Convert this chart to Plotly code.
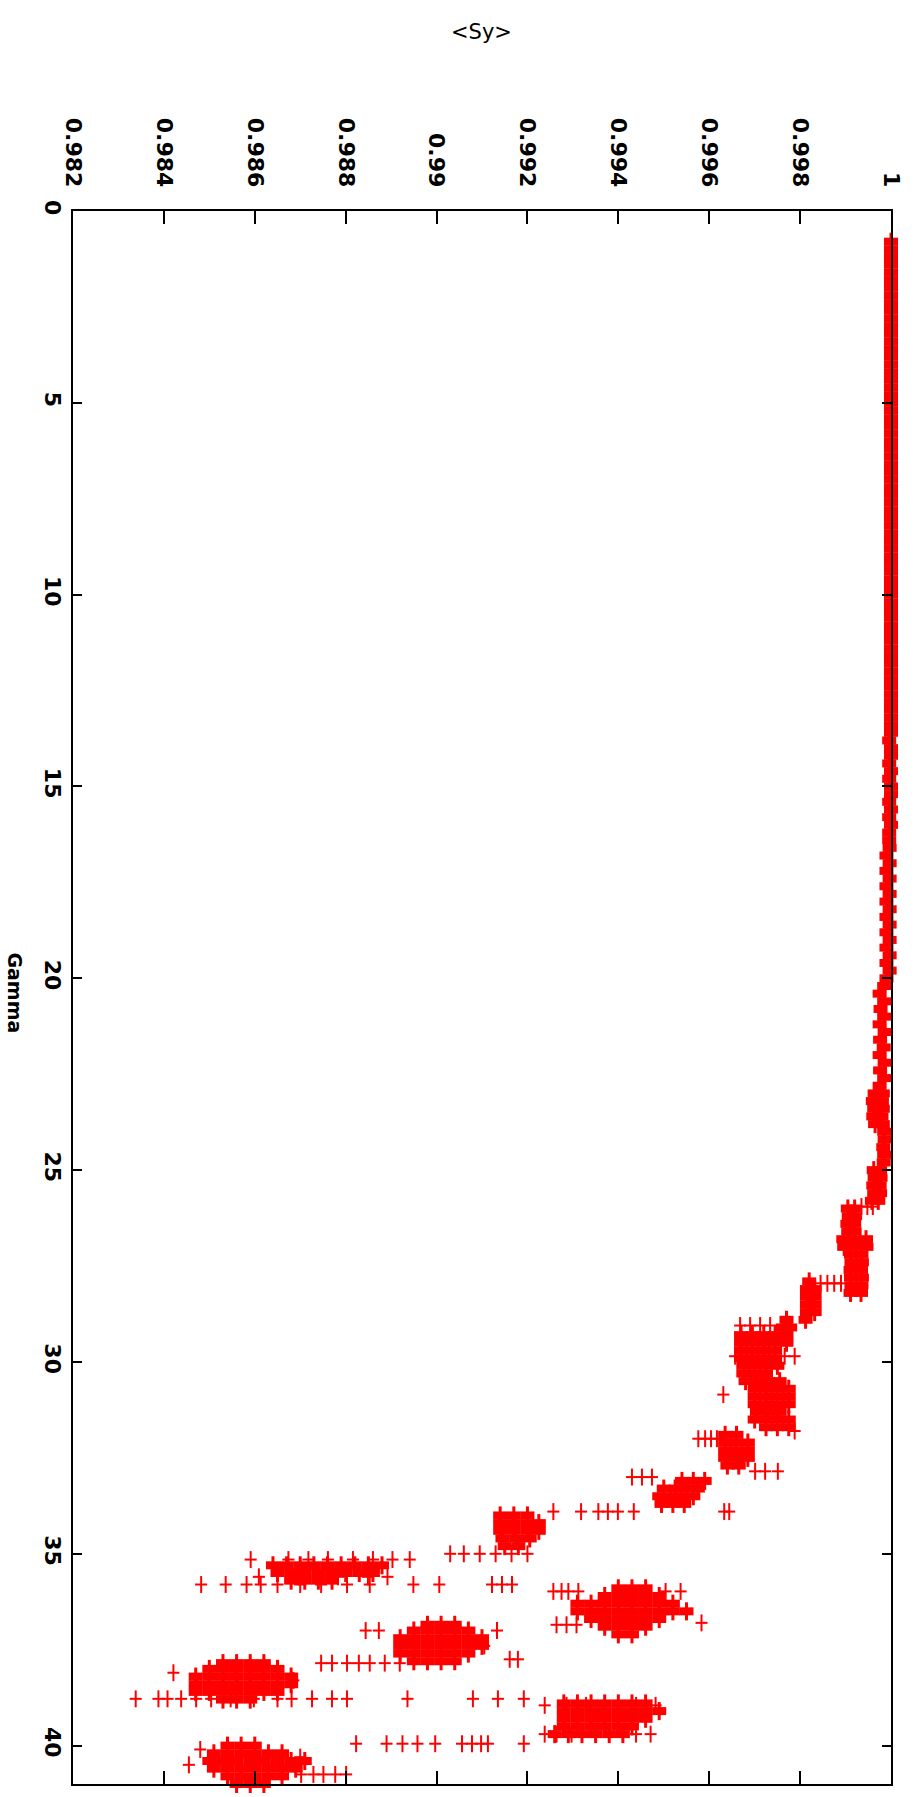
import plotly.graph_objects as go

# ---------------------------------------------------------------
# <Sy> versus Gamma
# ---------------------------------------------------------------

# Gamma 0.8 - 20: <Sy> sits on 1
plateau_gamma = [
    0.8, 1.0, 1.2, 1.4, 1.6, 1.8, 2.0, 2.2, 2.4, 2.6, 2.8, 3.0, 3.2, 3.4, 3.6, 3.8,
    4.0, 4.2, 4.4, 4.6, 4.8, 5.0, 5.2, 5.4, 5.6, 5.8, 6.0, 6.2, 6.4, 6.6, 6.8, 7.0,
    7.2, 7.4, 7.6, 7.8, 8.0, 8.2, 8.4, 8.6, 8.8, 9.0, 9.2, 9.4, 9.6, 9.8, 10.0, 10.2,
    10.4, 10.6, 10.8, 11.0, 11.2, 11.4, 11.6, 11.8, 12.0, 12.2, 12.4, 12.6, 12.8, 13.0,
    13.2, 13.4,
    13.6, 13.8, 14.0, 14.2, 14.4, 14.6, 14.8, 15.0, 15.2, 15.4, 15.6, 15.8, 16.0, 16.2,
    16.4,
    16.6, 16.8, 17.0, 17.2, 17.4, 17.6, 17.8, 18.0, 18.2, 18.4, 18.6, 18.8, 19.0, 19.2,
    19.4, 19.6, 19.8, 20.0,
]
plateau_sy = [
    1.0, 1.0, 1.0, 1.0, 1.0, 1.0, 1.0, 1.0, 1.0, 1.0, 1.0, 1.0, 1.0, 1.0, 1.0, 1.0,
    1.0, 1.0, 1.0, 1.0, 1.0, 1.0, 1.0, 1.0, 1.0, 1.0, 1.0, 1.0, 1.0, 1.0, 1.0, 1.0,
    1.0, 1.0, 1.0, 1.0, 1.0, 1.0, 1.0, 1.0, 1.0, 1.0, 1.0, 1.0, 1.0, 1.0, 1.0, 1.0,
    1.0, 1.0, 1.0, 1.0, 1.0, 1.0, 1.0, 1.0, 1.0, 1.0, 1.0, 1.0, 1.0, 1.0,
    1.0, 1.0,
    1.0, 0.99996, 1.0, 1.0, 0.99996, 1.0, 0.99996, 1.0, 1.0, 0.99996, 1.0, 0.99996,
    1.0, 0.99996, 0.99996,
    0.99997, 0.99990, 0.99997, 0.99990, 0.99997, 0.99990, 0.99997, 0.99990, 0.99997,
    0.99990, 0.99997, 0.99990, 0.99997, 0.99990, 0.99997, 0.99990, 0.99997, 0.99990,
]

# Dense bands: one Gamma per row, with the <Sy> values found on that row
knee_gamma = [20.2, 20.4, 20.6, 20.8, 21.0, 21.2, 21.4, 21.6, 21.8, 22.0, 22.2, 22.4,
              22.6, 22.8, 23.0, 23.2, 23.4, 23.6, 23.8, 24.0, 24.2, 24.4, 24.6, 24.8,
              25.0, 25.2, 25.4, 25.6, 25.8, 26.0, 26.2, 26.4, 26.6, 26.8, 27.0, 27.2,
              27.4, 27.6, 27.8, 28.0, 28.2]
knee_sy = [
    [0.99985], [0.99975], [0.99985], [0.99977], [0.99985], [0.99975], [0.99986],
    [0.99976], [0.99984], [0.99975], [0.99986], [0.99976], [0.99985], [0.99975],
    [0.99964, 0.99982], [0.99960, 0.99980], [0.99963, 0.99982], [0.99961, 0.99979],
    [0.99965, 0.99982],
    [0.99985], [0.99986], [0.99983], [0.99985], [0.99984],
    [0.99962, 0.99976], [0.99964, 0.99977], [0.99961, 0.99975], [0.99963, 0.99976],
    [0.99958, 0.99972],
    [0.99905, 0.99920], [0.99907, 0.99921], [0.99904, 0.99919], [0.99906, 0.99920],
    [0.99895, 0.99920, 0.99945], [0.99897, 0.99922, 0.99946],
    [0.99912, 0.99935], [0.99913, 0.99936], [0.99911, 0.99934], [0.99912, 0.99936],
    [0.99913, 0.99935], [0.99911, 0.99934],
]

step_gamma = [27.9, 28.1, 28.3, 28.5, 28.7, 28.9, 29.1, 29.3, 29.5, 29.7, 29.9, 30.1,
              30.3, 30.5, 30.7, 30.9, 31.1, 31.3, 31.5, 31.7, 31.9, 32.1, 32.3, 32.5,
              32.7, 33.1, 33.3, 33.5, 33.7, 34.0, 34.2, 34.4, 34.6, 34.8]
step_sy = [
    [0.99820],
    [0.99815, 0.99832], [0.99815, 0.99832], [0.99815, 0.99832], [0.99815, 0.99832],
    [0.99812, 0.99770],
    [0.99762, 0.99778],
    [0.99670, 0.99695, 0.99720, 0.99745, 0.99770],
    [0.99670, 0.99695, 0.99720, 0.99745, 0.99770],
    [0.99670, 0.99695, 0.99720, 0.99745],
    [0.99670, 0.99695, 0.99720, 0.99745],
    [0.99675, 0.99700, 0.99725, 0.99750],
    [0.99675, 0.99700, 0.99725],
    [0.99680, 0.99705, 0.99730, 0.99755],
    [0.99700, 0.99725, 0.99750, 0.99775],
    [0.99700, 0.99725, 0.99750, 0.99775],
    [0.99700, 0.99725, 0.99750, 0.99775],
    [0.99705, 0.99730, 0.99755],
    [0.99700, 0.99725, 0.99750, 0.99775],
    [0.99725, 0.99750, 0.99775],
    [0.99635, 0.99660],
    [0.99635, 0.99660, 0.99685],
    [0.99635, 0.99660, 0.99685],
    [0.99635, 0.99660, 0.99685],
    [0.99640, 0.99665],
    [0.99540, 0.99565, 0.99590],
    [0.99500, 0.99525, 0.99550, 0.99575],
    [0.99490, 0.99515, 0.99540, 0.99565],
    [0.99495, 0.99520, 0.99545],
    [0.99140, 0.99170, 0.99200],
    [0.99140, 0.99170, 0.99200, 0.99225],
    [0.99140, 0.99170, 0.99200, 0.99225],
    [0.99145, 0.99175, 0.99205],
    [0.99150, 0.99180],
]

branch_gamma = [35.3, 35.5, 35.7, 35.9, 36.1, 36.3, 36.5, 36.7, 36.85, 36.9, 37.0,
                37.1, 37.2, 37.4, 37.6, 37.8, 37.85, 38.0, 38.2, 38.4, 38.6, 38.8,
                38.9, 39.1, 39.3, 39.5, 39.7, 40.0, 40.2, 40.4, 40.6, 40.8, 41.0]
branch_sy = [
    [0.98640, 0.98670, 0.98700, 0.98730, 0.98760, 0.98790, 0.98820, 0.98850, 0.98880],
    [0.98650, 0.98680, 0.98710, 0.98740, 0.98770, 0.98800, 0.98830, 0.98860],
    [0.98680, 0.98710, 0.98740, 0.98770],
    [0.99400, 0.99430, 0.99460],
    [0.99370, 0.99400, 0.99430, 0.99460, 0.99490],
    [0.99310, 0.99340, 0.99370, 0.99400, 0.99430, 0.99460, 0.99490, 0.99520],
    [0.99310, 0.99340, 0.99370, 0.99400, 0.99430, 0.99460, 0.99490, 0.99520, 0.99550],
    [0.99340, 0.99370, 0.99400, 0.99430, 0.99460, 0.99490],
    [0.98980, 0.99010, 0.99040],
    [0.99370, 0.99400, 0.99430, 0.99460],
    [0.98950, 0.98980, 0.99010, 0.99040, 0.99070],
    [0.99400, 0.99430],
    [0.98920, 0.98950, 0.98980, 0.99010, 0.99040, 0.99070, 0.99100],
    [0.98920, 0.98950, 0.98980, 0.99010, 0.99040, 0.99070, 0.99100],
    [0.98920, 0.98950, 0.98980, 0.99010, 0.99040, 0.99070],
    [0.98950, 0.98980, 0.99010, 0.99040],
    [0.98530, 0.98560, 0.98590, 0.98620],
    [0.98500, 0.98530, 0.98560, 0.98590, 0.98620, 0.98650],
    [0.98470, 0.98500, 0.98530, 0.98560, 0.98590, 0.98620, 0.98650, 0.98680],
    [0.98470, 0.98500, 0.98530, 0.98560, 0.98590, 0.98620, 0.98650, 0.98680],
    [0.98470, 0.98500, 0.98530, 0.98560, 0.98590, 0.98620, 0.98650],
    [0.98530, 0.98560, 0.98590],
    [0.99280, 0.99310, 0.99340, 0.99370, 0.99400, 0.99430, 0.99460],
    [0.99280, 0.99310, 0.99340, 0.99370, 0.99400, 0.99430, 0.99460, 0.99490],
    [0.99280, 0.99310, 0.99340, 0.99370, 0.99400, 0.99430, 0.99460],
    [0.99280, 0.99310, 0.99340, 0.99370, 0.99400, 0.99430],
    [0.99260, 0.99290, 0.99320, 0.99350, 0.99380, 0.99410],
    [0.98540, 0.98570, 0.98600],
    [0.98510, 0.98540, 0.98570, 0.98600, 0.98630, 0.98660],
    [0.98500, 0.98530, 0.98560, 0.98590, 0.98620, 0.98650, 0.98680, 0.98710],
    [0.98510, 0.98540, 0.98570, 0.98600, 0.98630, 0.98660, 0.98690],
    [0.98540, 0.98570, 0.98600, 0.98630, 0.98660],
    [0.98560, 0.98590, 0.98620],
]

# Isolated points
stray_gamma = [25.95, 27.95, 29.05, 29.85, 30.85, 31.8, 32.0, 32.85, 33.0, 33.9, 35.0,
               35.15, 35.6, 35.8, 35.98, 36.8, 36.85, 37.0, 37.4, 37.75, 37.85, 38.1,
               38.3, 38.78, 38.95, 39.7, 39.95, 40.1, 40.3, 40.5, 40.75, 40.95]
stray_sy = [
    [0.99935, 0.99948, 0.99960],
    [0.99845, 0.99860, 0.99875, 0.99890],
    [0.99668, 0.99690, 0.99712, 0.99734],
    [0.99657, 0.99683, 0.99766, 0.99788],
    [0.99631],
    [0.99788],
    [0.99576, 0.99591, 0.99604, 0.99617],
    [0.99701, 0.99723, 0.99751],
    [0.99430, 0.99452, 0.99474],
    [0.99257, 0.99318, 0.99356, 0.99377, 0.99399, 0.99434, 0.99633, 0.99644],
    [0.99030, 0.99060, 0.99095, 0.99130, 0.99165, 0.99200],
    [0.98591, 0.98674, 0.98718, 0.98761, 0.98816, 0.98860, 0.98903, 0.98941],
    [0.98609, 0.98696, 0.98783, 0.98849, 0.98892],
    [0.98482, 0.98536, 0.98582, 0.98613, 0.98650, 0.98700, 0.98746, 0.98803, 0.98853,
     0.98949, 0.99006, 0.99122, 0.99144, 0.99166],
    [0.99257, 0.99275, 0.99290, 0.99312, 0.99504, 0.99537],
    [0.99583],
    [0.99264, 0.99286, 0.99308],
    [0.98844, 0.98873, 0.99133],
    [0.99105],
    [0.99161, 0.99179],
    [0.98746, 0.98770, 0.98803, 0.98829, 0.98853, 0.98886, 0.98919],
    [0.98421],
    [0.98685],
    [0.98338, 0.98388, 0.98408, 0.98438, 0.98471, 0.98504, 0.98547, 0.98598, 0.98650,
     0.98681, 0.98726, 0.98770, 0.98803, 0.98936, 0.99080, 0.99135, 0.99192],
    [0.99238, 0.99286, 0.99329, 0.99439, 0.99482],
    [0.99238, 0.99264, 0.99297, 0.99439, 0.99471],
    [0.98823, 0.98890, 0.98925, 0.98958, 0.98997, 0.99056, 0.99078, 0.99098, 0.99113,
     0.99192],
    [0.98480],
    [0.98700],
    [0.98455],
    [0.98702, 0.98729, 0.98751, 0.98777, 0.98801],
    [0.98560, 0.98620],
]

sy_ticks = [0.982, 0.984, 0.986, 0.988, 0.990, 0.992, 0.994, 0.996, 0.998, 1.0]
sy_ticktext = ["0.982", "0.984", "0.986", "0.988", "0.99", "0.992", "0.994", "0.996",
               "0.998", "1"]
gamma_ticks = [0, 5, 10, 15, 20, 25, 30, 35, 40]
gamma_ticktext = ["0", "5", "10", "15", "20", "25", "30", "35", "40"]


def flatten(rows_gamma, rows_sy):
    xs, ys = [], []
    for g, vals in zip(rows_gamma, rows_sy):
        for v in vals:
            xs.append(v)
            ys.append(g)
    return xs, ys


RED = "#ff0000"
FONT = "DejaVu Sans"

solid_x = list(plateau_sy)
solid_y = list(plateau_gamma)
for rg, rs in ((knee_gamma, knee_sy), (step_gamma, step_sy), (branch_gamma, branch_sy)):
    xs, ys = flatten(rg, rs)
    solid_x += xs
    solid_y += ys

stray_x, stray_y = flatten(stray_gamma, stray_sy)


def plus_traces(x, y, ew_size, ew_width, ns_size, ns_width):
    # a "+" point mark built from a horizontal and a vertical stroke
    out = []
    for sym, size, width in (("line-ew", ew_size, ew_width), ("line-ns", ns_size, ns_width)):
        out.append(go.Scatter(
            x=x, y=y, mode="markers", showlegend=False, hoverinfo="skip",
            cliponaxis=False,
            marker=dict(symbol=sym, size=size, color=RED,
                        line=dict(color=RED, width=width)),
        ))
    return out


fig = go.Figure()
for tr in plus_traces(solid_x, solid_y, 10, 8, 12.9, 3):
    fig.add_trace(tr)
for tr in plus_traces(stray_x, stray_y, 8.6, 2, 12.1, 2):
    fig.add_trace(tr)

axis_font = dict(family=FONT, size=22, color="black", weight="bold")

fig.update_layout(
    width=915, height=1797,
    margin=dict(l=73, r=18, t=211, b=11),
    paper_bgcolor="white", plot_bgcolor="white",
    xaxis=dict(
        side="top", range=[0.982, 1.0],
        tickmode="array", tickvals=sy_ticks, ticktext=sy_ticktext,
        tickangle=90, tickfont=axis_font, ticklabelstandoff=14,
        ticks="inside", ticklen=13, tickwidth=2, tickcolor="black",
        showline=True, linecolor="black", linewidth=2, mirror="ticks",
        showgrid=False, zeroline=False,
    ),
    yaxis=dict(
        range=[41, 0],
        tickmode="array", tickvals=gamma_ticks, ticktext=gamma_ticktext,
        tickangle=90, tickfont=axis_font,
        ticks="inside", ticklen=9, tickwidth=2, tickcolor="black",
        showline=True, linecolor="black", linewidth=2, mirror="ticks",
        showgrid=False, zeroline=False,
    ),
    annotations=[
        dict(text="&lt;Sy&gt;", xref="paper", yref="paper", x=0.499, y=1.114,
             xanchor="center", yanchor="middle", showarrow=False,
             font=dict(family=FONT, size=21, color="black")),
        dict(text="Gamma", xref="paper", yref="paper", x=-0.0705, y=0.503,
             xanchor="center", yanchor="middle", showarrow=False, textangle=90,
             font=dict(family=FONT, size=19, color="black", weight="bold")),
    ],
)

fig.write_html("out.html")
